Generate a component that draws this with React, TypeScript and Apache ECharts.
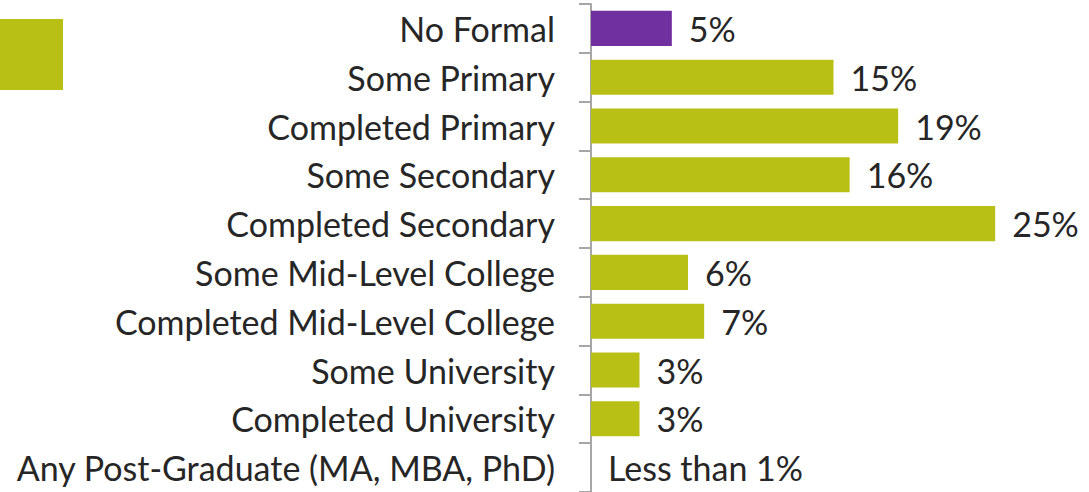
import React, { useEffect, useRef } from "react";
import * as echarts from "echarts";

const categories = [
  "No Formal",
  "Some Primary",
  "Completed Primary",
  "Some Secondary",
  "Completed Secondary",
  "Some Mid-Level College",
  "Completed Mid-Level College",
  "Some University",
  "Completed University",
  "Any Post-Graduate (MA, MBA, PhD)",
];
const values = [5, 15, 19, 16, 25, 6, 7, 3, 3, 0];
const valueLabels = ["5%", "15%", "19%", "16%", "25%", "6%", "7%", "3%", "3%", "Less than 1%"];
const highlightIndex = 0;

const GREEN = "#B9C015";
const PURPLE = "#7030A0";
const TEXT = "#262626";
const FONT = "Lato";
const FS = 34;

export default function App() {
  const ref = useRef<HTMLDivElement>(null);
  useEffect(() => {
    document.body.style.margin = "0";
    const chart = echarts.init(ref.current!, null, { renderer: "svg" });
    chart.setOption({
      animation: false,
      grid: { left: 591, top: 4, bottom: 0, width: 485, containLabel: false },
      xAxis: { type: "value", min: 0, max: 30, show: false },
      yAxis: {
        type: "category",
        data: categories,
        inverse: true,
        axisLine: { show: true, lineStyle: { color: "#A6A6A6", width: 2 } },
        axisTick: { show: true, length: 12, lineStyle: { color: "#A6A6A6", width: 2 } },
        axisLabel: { color: TEXT, fontSize: FS, fontFamily: FONT, margin: 36 },
      },
      graphic: [
        { type: "rect", shape: { x: 0, y: 19, width: 63, height: 71 }, style: { fill: GREEN } },
      ],
      series: [
        {
          type: "bar",
          barCategoryGap: "28%",
          data: values.map((v, i) => ({
            value: v,
            itemStyle: { color: i === highlightIndex ? PURPLE : GREEN },
          })),
          label: {
            show: true,
            position: "right",
            distance: 17,
            color: TEXT,
            fontSize: FS,
            fontFamily: FONT,
            formatter: (p: any) => valueLabels[p.dataIndex],
          },
        },
      ],
    });
    return () => chart.dispose();
  }, []);
  return <div ref={ref} style={{ position: "absolute", left: 0, top: 0, width: 1089, height: 492 }} />;
}
